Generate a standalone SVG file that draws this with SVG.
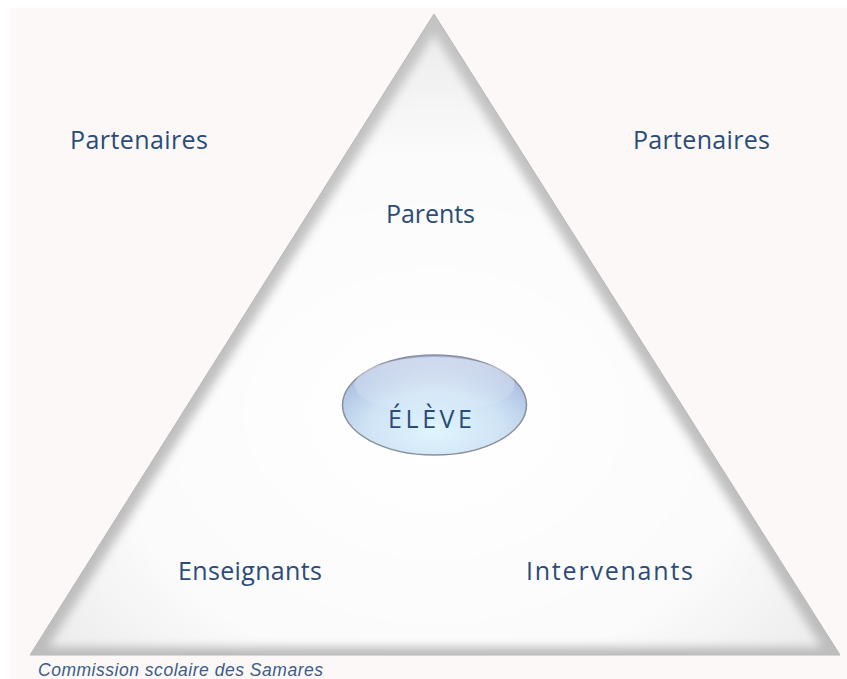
<svg xmlns="http://www.w3.org/2000/svg" width="847" height="679" viewBox="0 0 847 679">
  <defs>
    <style>
      .lbl { font-family: "Open Sans", "Liberation Sans", sans-serif; font-size: 25px; fill: #2b4c78; }
      .credit { font-family: "Liberation Sans", Arial, sans-serif; font-size: 17.5px; font-style: italic; fill: #3b5d89; }
    </style>
    <radialGradient id="triFill" cx="0.5" cy="0.62" r="0.6">
      <stop offset="0" stop-color="#ffffff"/>
      <stop offset="0.7" stop-color="#fbfbfb"/>
      <stop offset="1" stop-color="#eeeeee"/>
    </radialGradient>
    <linearGradient id="triEdge" x1="0" y1="0" x2="0" y2="1">
      <stop offset="0" stop-color="#c4c4c4"/>
      <stop offset="1" stop-color="#bdbdbd"/>
    </linearGradient>
    <filter id="soft" x="-0.1" y="-0.1" width="1.2" height="1.2">
      <feGaussianBlur stdDeviation="5"/>
    </filter>
    <radialGradient id="ellFill" cx="0.5" cy="0.75" r="0.75">
      <stop offset="0" stop-color="#e0f5fd"/>
      <stop offset="0.5" stop-color="#cfe3f5"/>
      <stop offset="1" stop-color="#9fb2da"/>
    </radialGradient>
    <linearGradient id="ellShine" x1="0" y1="0" x2="0" y2="1">
      <stop offset="0" stop-color="#ffffff" stop-opacity="0.5"/>
      <stop offset="1" stop-color="#ffffff" stop-opacity="0"/>
    </linearGradient>
  </defs>

  <rect x="0" y="0" width="847" height="679" fill="#ffffff"/>
  <rect x="10" y="8" width="837" height="671" fill="#fcf8f7"/>

  <g id="triangle">
    <polygon points="434,14 30,655 840,655" fill="url(#triEdge)"/>
    <polygon points="434,34 48,647 822,647" fill="url(#triFill)" filter="url(#soft)"/>
    <polygon points="434,14 30,655 840,655" fill="none" stroke="#b8b8b8" stroke-width="1"/>
  </g>

  <g id="eleve">
    <ellipse cx="434.5" cy="405" rx="92" ry="50" fill="url(#ellFill)" stroke="#8a8f9c" stroke-width="1.5"/>
    <ellipse cx="434.5" cy="385" rx="80" ry="28" fill="url(#ellShine)"/>
    <text class="lbl" x="430" y="428" text-anchor="middle" font-size="26" textLength="84" lengthAdjust="spacing">ÉLÈVE</text>
  </g>

  <g id="partenaires-left">
    <text class="lbl" x="70" y="149" textLength="138" lengthAdjust="spacing">Partenaires</text>
  </g>
  <g id="partenaires-right">
    <text class="lbl" x="633" y="149" textLength="137" lengthAdjust="spacing">Partenaires</text>
  </g>
  <g id="parents">
    <text class="lbl" x="386" y="223" textLength="89" lengthAdjust="spacing">Parents</text>
  </g>
  <g id="enseignants">
    <text class="lbl" x="178" y="580" textLength="144" lengthAdjust="spacing">Enseignants</text>
  </g>
  <g id="intervenants">
    <text class="lbl" x="526" y="580" textLength="167" lengthAdjust="spacing">Intervenants</text>
  </g>

  <g id="connectors"/>

  <text class="credit" x="38" y="676" textLength="285" lengthAdjust="spacing">Commission scolaire des Samares</text>
</svg>
